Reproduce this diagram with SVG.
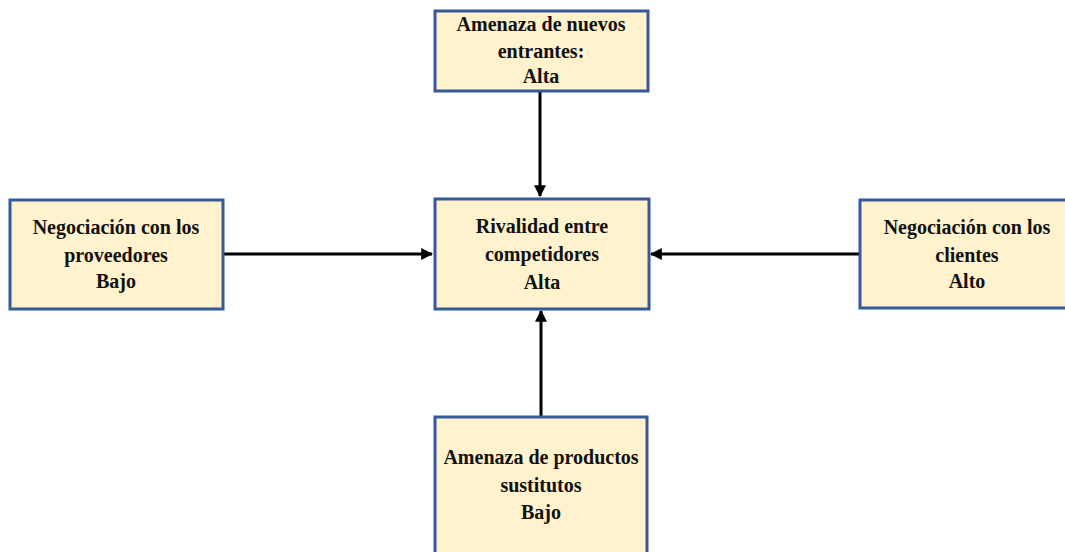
<svg xmlns="http://www.w3.org/2000/svg" width="1065" height="552" viewBox="0 0 1065 552">
<style>
.box{fill:#FFF2CC;stroke:#35599A;stroke-width:3}
.t{font-family:"Liberation Serif","Times New Roman",serif;font-weight:bold;font-size:20px;fill:#111;text-anchor:middle}
.c{stroke:#000;stroke-width:3;fill:none;marker-end:url(#ah)}
</style>
<defs>
<marker id="ah" viewBox="0 0 10 10" refX="9" refY="5" markerWidth="4" markerHeight="4" orient="auto" markerUnits="strokeWidth">
<path d="M0,0 L10,5 L0,10 z" fill="#000"/>
</marker>
</defs>
<g id="connectors">
<line class="c" x1="540" y1="91" x2="540" y2="196"/>
<line class="c" x1="223" y1="254" x2="432" y2="254"/>
<line class="c" x1="860" y1="254" x2="651" y2="254"/>
<line class="c" x1="541" y1="417" x2="541" y2="311"/>
</g>
<g id="nuevos">
<rect class="box" x="435" y="11" width="213" height="80"/>
<text class="t" x="541" y="31">Amenaza de nuevos</text>
<text class="t" x="541" y="58">entrantes:</text>
<text class="t" x="541" y="83">Alta</text>
</g>
<g id="proveedores">
<rect class="box" x="10" y="200" width="213" height="109"/>
<text class="t" x="116" y="234">Negociación con los</text>
<text class="t" x="116" y="262">proveedores</text>
<text class="t" x="116" y="288">Bajo</text>
</g>
<g id="rivalidad">
<rect class="box" x="435" y="199" width="214" height="110"/>
<text class="t" x="542" y="233">Rivalidad entre</text>
<text class="t" x="542" y="261">competidores</text>
<text class="t" x="542" y="289">Alta</text>
</g>
<g id="clientes">
<rect class="box" x="860" y="200" width="210" height="108"/>
<text class="t" x="967" y="234">Negociación con los</text>
<text class="t" x="967" y="262">clientes</text>
<text class="t" x="967" y="288">Alto</text>
</g>
<g id="sustitutos">
<rect class="box" x="435" y="417" width="212" height="140"/>
<text class="t" x="541" y="464">Amenaza de productos</text>
<text class="t" x="541" y="492">sustitutos</text>
<text class="t" x="541" y="519">Bajo</text>
</g>
</svg>
